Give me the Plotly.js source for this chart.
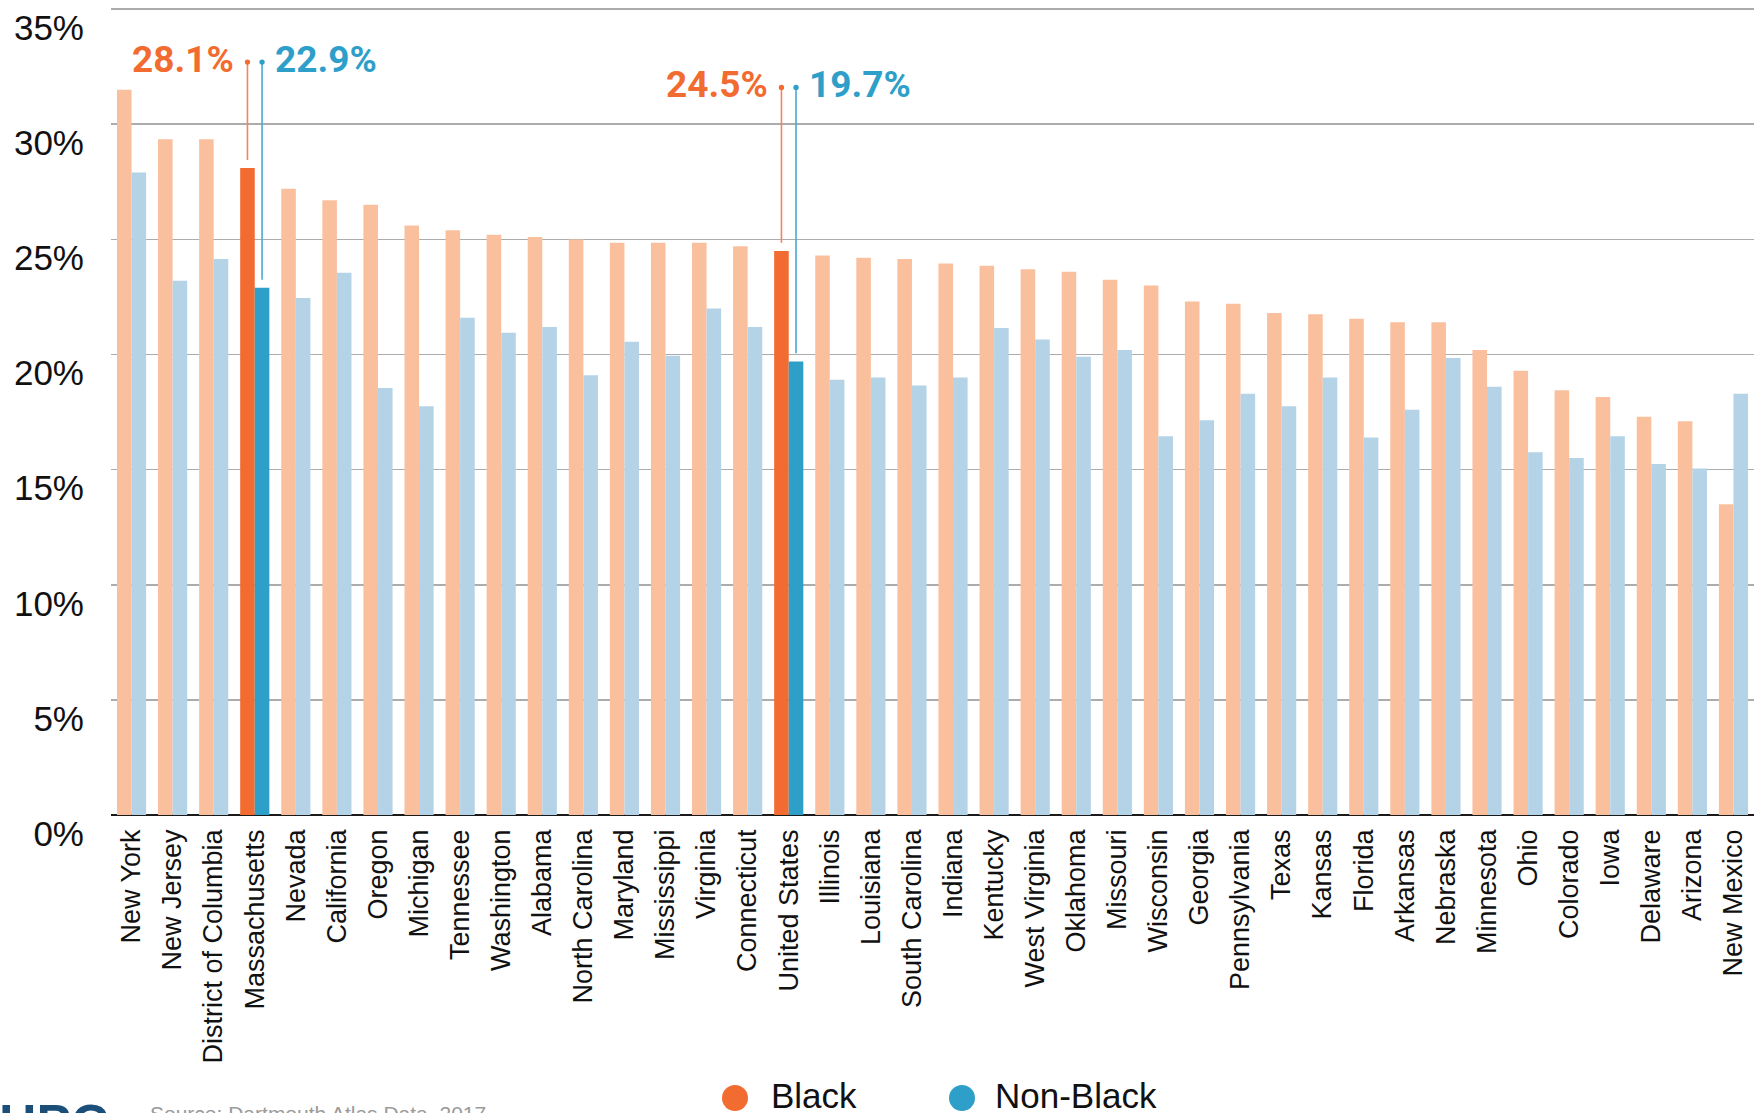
<!DOCTYPE html>
<html>
<head>
<meta charset="utf-8">
<script src="https://cdn.plot.ly/plotly-3.0.1.min.js"></script>
<style>
  html, body { margin: 0; padding: 0; background: #ffffff; }
  #chart { width: 1760px; height: 1113px; }
</style>
</head>
<body>
<div id="chart"></div>
<script>
// States ranked by the share of the Black population, with the non-Black share alongside
const states = [
  'New York', 'New Jersey', 'District of Columbia', 'Massachusetts', 'Nevada',
  'California', 'Oregon', 'Michigan', 'Tennessee', 'Washington',
  'Alabama', 'North Carolina', 'Maryland', 'Mississippi', 'Virginia',
  'Connecticut', 'United States', 'Illinois', 'Louisiana', 'South Carolina',
  'Indiana', 'Kentucky', 'West Virginia', 'Oklahoma', 'Missouri',
  'Wisconsin', 'Georgia', 'Pennsylvania', 'Texas', 'Kansas',
  'Florida', 'Arkansas', 'Nebraska', 'Minnesota', 'Ohio',
  'Colorado', 'Iowa', 'Delaware', 'Arizona', 'New Mexico'
];

const blackRate = [
  31.5, 29.35, 29.35, 28.1, 27.2,
  26.7, 26.5, 25.6, 25.4, 25.2,
  25.1, 25.0, 24.85, 24.85, 24.85,
  24.7, 24.5, 24.3, 24.2, 24.15,
  23.95, 23.85, 23.7, 23.6, 23.25,
  23.0, 22.3, 22.2, 21.8, 21.75,
  21.55, 21.4, 21.4, 20.2, 19.3,
  18.45, 18.15, 17.3, 17.1, 13.5
];

const nonBlackRate = [
  27.9, 23.2, 24.15, 22.9, 22.45,
  23.55, 18.55, 17.75, 21.6, 20.95,
  21.2, 19.1, 20.55, 19.95, 22.0,
  21.2, 19.7, 18.9, 19.0, 18.65,
  19.0, 21.15, 20.65, 19.9, 20.2,
  16.45, 17.15, 18.3, 17.75, 19.0,
  16.4, 17.6, 19.85, 18.6, 15.75,
  15.5, 16.45, 15.25, 15.05, 18.3
];

const yTickValues = [0, 5, 10, 15, 20, 25, 30, 35];
const yTickLabels = ['0%', '5%', '10%', '15%', '20%', '25%', '30%', '35%'];

// Bars that get the strong colours and a value callout
const highlighted = ['Massachusetts', 'United States'];
// Height (in axis units) at which each callout sits
const calloutLevel = { 'Massachusetts': 32.7, 'United States': 31.6 };

const colors = {
  black: '#f26b30', blackSoft: '#fac09e',
  nonBlack: '#2e9fc9', nonBlackSoft: '#b4d3e6',
  grid: '#acacac', text: '#111111'
};

const W = 1760, H = 1113;
const margin = { l: 111, r: 6, t: 8, b: 298, pad: 0 };
const yMax = 35.05;
const plotW = W - margin.l - margin.r;
const plotH = H - margin.t - margin.b;
const bargap = 0.29;
const barShift = (1 - bargap) / 4;           // centre of each bar, in category widths
const catPx = plotW / states.length;           // category width in pixels

const blackColors = states.map(s => highlighted.includes(s) ? colors.black : colors.blackSoft);
const nonBlackColors = states.map(s => highlighted.includes(s) ? colors.nonBlack : colors.nonBlackSoft);

const traces = [
  {
    type: 'bar', name: 'Black', x: states, y: blackRate,
    marker: { color: blackColors, line: { width: 0 } },
    hoverinfo: 'x+y', showlegend: false
  },
  {
    type: 'bar', name: 'Non-Black', x: states, y: nonBlackRate,
    marker: { color: nonBlackColors, line: { width: 0 } },
    hoverinfo: 'x+y', showlegend: false
  }
];

const shapes = [];
const annotations = [];

// Callouts: a thin leader from just above each highlighted bar up to a dot, with the value beside it
highlighted.forEach(name => {
  const i = states.indexOf(name);
  const level = calloutLevel[name];
  [
    { v: blackRate[i], c: colors.black, lc: '#f4855a', side: -1 },
    { v: nonBlackRate[i], c: colors.nonBlack, lc: '#4aaad2', side: 1 }
  ].forEach(s => {
    const shift = s.side * barShift;
    shapes.push({
      type: 'line', xref: 'x', yref: 'y',
      x0: name, x1: name, x0shift: shift, x1shift: shift,
      y0: s.v + 0.35, y1: level,
      line: { color: s.lc, width: 1.6 }, layer: 'above'
    });
    shapes.push({
      type: 'circle', xref: 'x', yref: 'y',
      x0: name, x1: name, x0shift: shift - 0.065, x1shift: shift + 0.065,
      y0: level - 0.115, y1: level + 0.115,
      fillcolor: s.c, line: { color: s.c, width: 0 }, layer: 'above'
    });
    annotations.push({
      xref: 'x', yref: 'y', x: name, y: level,
      text: s.v.toFixed(1) + '%', showarrow: false,
      xanchor: s.side < 0 ? 'right' : 'left', yanchor: 'middle',
      xshift: s.side * (barShift * catPx + 11), yshift: 3,
      font: { family: 'Roboto, "Liberation Sans", sans-serif', size: 37, color: s.c, weight: 700 }
    });
  });
});

// Helpers to place layout items below the plot area in pixels
const px = x => (x - margin.l) / plotW;
const py = y => (H - margin.b - y) / plotH;

// Legend: round swatches with labels
[
  { label: 'Black', c: colors.black, cx: 735, tx: 769 },
  { label: 'Non-Black', c: colors.nonBlack, cx: 962, tx: 993 }
].forEach(item => {
  shapes.push({
    type: 'circle', xref: 'paper', yref: 'paper',
    xsizemode: 'pixel', ysizemode: 'pixel',
    xanchor: px(item.cx), yanchor: py(1098),
    x0: -13, x1: 13, y0: -13, y1: 13,
    fillcolor: item.c, line: { width: 0 }
  });
  annotations.push({
    xref: 'paper', yref: 'paper', x: px(item.tx), y: py(1095),
    xanchor: 'left', yanchor: 'middle', showarrow: false,
    text: item.label,
    font: { family: '"Liberation Sans", Arial, sans-serif', size: 35, color: colors.text }
  });
});

// Footer: organisation mark and source line
annotations.push({
  xref: 'paper', yref: 'paper', x: px(-3), y: py(1092),
  xanchor: 'left', yanchor: 'top', showarrow: false,
  text: '<b>HPC</b>',
  font: { family: '"Liberation Sans", Arial, sans-serif', size: 52, color: '#1b4f7a' }
});
annotations.push({
  xref: 'paper', yref: 'paper', x: px(148), y: py(1100),
  xanchor: 'left', yanchor: 'top', showarrow: false,
  text: 'Source: Dartmouth Atlas Data, 2017',
  font: { family: '"Liberation Sans", Arial, sans-serif', size: 21, color: '#9a9a9a' }
});

const layout = {
  width: W, height: H, margin: margin,
  paper_bgcolor: '#ffffff', plot_bgcolor: '#ffffff',
  barmode: 'group', bargap: bargap, bargroupgap: 0,
  showlegend: false,
  xaxis: {
    type: 'category', categoryorder: 'array', categoryarray: states,
    tickangle: -90, ticks: '', showgrid: false, showline: false, zeroline: false,
    ticklabelstandoff: 8,
    tickfont: { family: '"Liberation Sans", Arial, sans-serif', size: 27, color: colors.text },
    fixedrange: true
  },
  yaxis: {
    range: [0, yMax], tickmode: 'array', tickvals: yTickValues, ticktext: yTickLabels,
    ticks: '', showgrid: true, gridcolor: colors.grid, gridwidth: 1.6,
    zeroline: true, zerolinecolor: '#1a1a1a', zerolinewidth: 2.5,
    ticklabelposition: 'outside bottom', ticklabelstandoff: 26, ticklabelshift: -6,
    tickfont: { family: '"Liberation Sans", Arial, sans-serif', size: 35, color: colors.text },
    fixedrange: true
  },
  shapes: shapes,
  annotations: annotations
};

Plotly.newPlot('chart', traces, layout, { displayModeBar: false, staticPlot: true });
</script>
</body>
</html>
